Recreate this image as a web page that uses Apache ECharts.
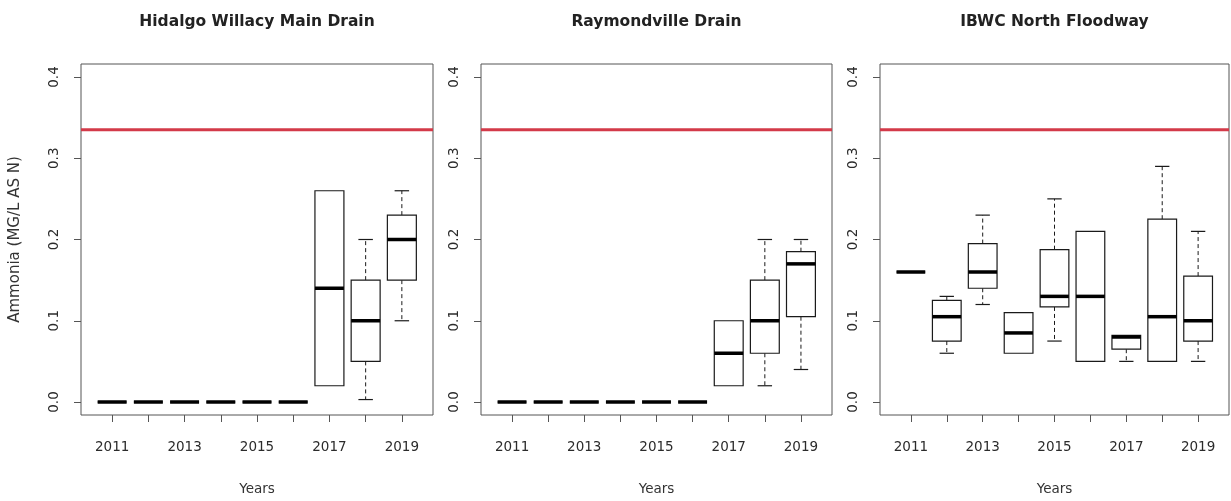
<!DOCTYPE html>
<html>
<head>
<meta charset="utf-8">
<script src="https://cdn.jsdelivr.net/npm/echarts@6/dist/echarts.min.js"></script>
<style>
html,body{margin:0;padding:0;background:#fff;}
#chart{width:1231px;height:501px;}
</style>
</head>
<body>
<div id="chart"></div>
<script>
// ---- data ----
const years = ['2011','2012','2013','2014','2015','2016','2017','2018','2019'];
const panelTitles = ['Hidalgo Willacy Main Drain', 'Raymondville Drain', 'IBWC North Floodway'];
const yTicks = [0, 0.1, 0.2, 0.3, 0.4];
const screeningLevel = 0.335;
// each row: [min, q1, median, q3, max]
const hidalgo = [
  [0, 0, 0, 0, 0],
  [0, 0, 0, 0, 0],
  [0, 0, 0, 0, 0],
  [0, 0, 0, 0, 0],
  [0, 0, 0, 0, 0],
  [0, 0, 0, 0, 0],
  [0.02, 0.02, 0.14, 0.26, 0.26],
  [0.003, 0.05, 0.10, 0.15, 0.20],
  [0.10, 0.15, 0.20, 0.23, 0.26]
];
const raymondville = [
  [0, 0, 0, 0, 0],
  [0, 0, 0, 0, 0],
  [0, 0, 0, 0, 0],
  [0, 0, 0, 0, 0],
  [0, 0, 0, 0, 0],
  [0, 0, 0, 0, 0],
  [0.02, 0.02, 0.06, 0.10, 0.10],
  [0.02, 0.06, 0.10, 0.15, 0.20],
  [0.04, 0.105, 0.17, 0.185, 0.20]
];
const ibwc = [
  [0.16, 0.16, 0.16, 0.16, 0.16],
  [0.06, 0.075, 0.105, 0.125, 0.13],
  [0.12, 0.14, 0.16, 0.195, 0.23],
  [0.06, 0.06, 0.085, 0.11, 0.11],
  [0.075, 0.117, 0.13, 0.1875, 0.25],
  [0.05, 0.05, 0.13, 0.21, 0.21],
  [0.05, 0.065, 0.08, 0.082, 0.082],
  [0.05, 0.05, 0.105, 0.225, 0.29],
  [0.05, 0.075, 0.10, 0.155, 0.21]
];
const panels = [hidalgo, raymondville, ibwc];

// ---- layout / style ----
const FONT = 'DejaVu Sans';
const grids = [
  {left: 81, top: 64, width: 352, height: 353},
  {left: 481, top: 64, width: 351, height: 353},
  {left: 880, top: 64, width: 349, height: 353}
];
const BOXWEX = 0.8, STAPLEWEX = 0.5;
const n = years.length;
const xPad = n * 0.04;
const yPad = 0.4 * 0.04;

function renderBox(params, api) {
  const i = api.value(0);
  const mn = api.value(1), q1 = api.value(2), md = api.value(3), q3 = api.value(4), mx = api.value(5);
  const cx = api.coord([i, md])[0];
  const bw = api.size([BOXWEX, 0])[0];
  const hw = bw / 2, sw = bw * STAPLEWEX / 2;
  const Y = v => api.coord([i, v])[1];
  const stroke = '#1a1a1a';
  const ch = [];
  if (mx > q3) {
    ch.push({type: 'line', shape: {x1: cx, y1: Y(q3), x2: cx, y2: Y(mx)}, style: {stroke, lineWidth: 1, lineDash: [4, 3]}});
    ch.push({type: 'line', shape: {x1: cx - sw, y1: Y(mx), x2: cx + sw, y2: Y(mx)}, style: {stroke, lineWidth: 1.2}});
  }
  if (mn < q1) {
    ch.push({type: 'line', shape: {x1: cx, y1: Y(q1), x2: cx, y2: Y(mn)}, style: {stroke, lineWidth: 1, lineDash: [4, 3]}});
    ch.push({type: 'line', shape: {x1: cx - sw, y1: Y(mn), x2: cx + sw, y2: Y(mn)}, style: {stroke, lineWidth: 1.2}});
  }
  ch.push({type: 'rect', shape: {x: cx - hw, y: Y(q3), width: bw, height: Y(q1) - Y(q3)}, style: {fill: '#fff', stroke, lineWidth: 1.2}});
  ch.push({type: 'line', shape: {x1: cx - hw, y1: Y(md), x2: cx + hw, y2: Y(md)}, style: {stroke: '#000', lineWidth: 3.5}});
  return {type: 'group', children: ch};
}

function renderLimit(params, api) {
  const cs = params.coordSys;
  const y = api.coord([0, api.value(0)])[1];
  return {type: 'line', shape: {x1: cs.x, y1: y, x2: cs.x + cs.width, y2: y},
          style: {stroke: '#d33a49', lineWidth: 3}};
}

const boxSeries = panels.map((rows, k) => ({
  type: 'custom', xAxisIndex: k, yAxisIndex: k,
  renderItem: renderBox,
  encode: {x: 0, y: [1, 2, 3, 4, 5]},
  data: rows.map((r, i) => [i].concat(r)),
  z: 3
}));
const limitSeries = panels.map((rows, k) => ({
  type: 'custom', xAxisIndex: k, yAxisIndex: k,
  renderItem: renderLimit,
  encode: {y: 0},
  data: [[screeningLevel]],
  z: 4
}));

const option = {
  backgroundColor: '#fff',
  animation: false,
  title: panelTitles.map((t, k) => ({
    text: t,
    left: grids[k].left + grids[k].width / 2,
    top: 14,
    padding: 0,
    textAlign: 'center',
    textStyle: {fontFamily: FONT, fontSize: 15.5, fontWeight: 'bold', color: '#222'}
  })),
  grid: grids.map(g => Object.assign({show: true, borderColor: '#555', borderWidth: 1, backgroundColor: 'transparent'}, g)),
  xAxis: grids.map((g, k) => ({
    type: 'value', gridIndex: k,
    min: -0.5 - xPad, max: n - 0.5 + xPad,
    name: 'Years', nameLocation: 'middle', nameGap: 67,
    nameTextStyle: {fontFamily: FONT, fontSize: 13.5, color: '#333'},
    axisLine: {show: false, onZero: false},
    splitLine: {show: false},
    axisTick: {show: true, length: 7, lineStyle: {color: '#555'}, customValues: years.map((y, i) => i)},
    axisLabel: {
      fontFamily: FONT, fontSize: 13.5, color: '#2b2b2b', margin: 25,
      customValues: years.map((y, i) => i).filter(i => i % 2 === 0),
      formatter: v => years[Math.round(v)]
    }
  })),
  yAxis: grids.map((g, k) => ({
    type: 'value', gridIndex: k,
    min: -yPad, max: 0.4 + yPad,
    name: k === 0 ? 'Ammonia (MG/L AS N)' : '',
    nameLocation: 'middle', nameGap: 58,
    nameTextStyle: {fontFamily: FONT, fontSize: 15, color: '#333'},
    axisLine: {show: false, onZero: false},
    splitLine: {show: false},
    axisTick: {show: true, length: 7, lineStyle: {color: '#555'}, customValues: yTicks},
    axisLabel: {
      fontFamily: FONT, fontSize: 13.5, color: '#2b2b2b', margin: 20, rotate: 90,
      customValues: yTicks,
      formatter: v => v.toFixed(1)
    }
  })),
  series: boxSeries.concat(limitSeries)
};

const chart = echarts.init(document.getElementById('chart'), null, {renderer: 'canvas'});
chart.setOption(option);
</script>
</body>
</html>
